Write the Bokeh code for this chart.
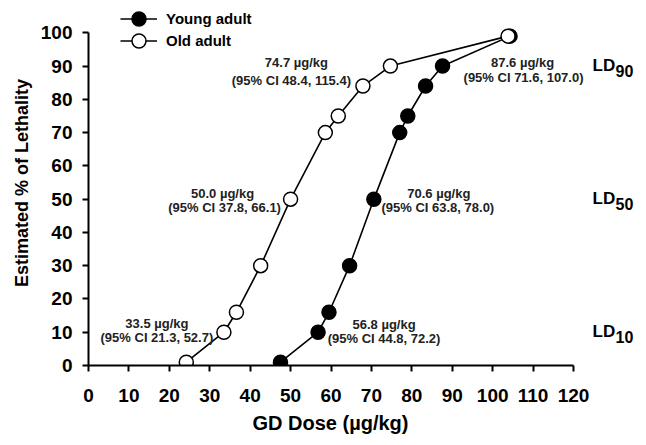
from bokeh.plotting import figure
from bokeh.models import (Range1d, FixedTicker, Legend, LegendItem, LabelSet,
                          ColumnDataSource, Title)
from bokeh.core.properties import value
from bokeh.embed import file_html
from bokeh.resources import INLINE

# ---------------- data ----------------
young_dose = [47.5, 56.8, 59.5, 64.6, 70.6, 77.0, 79.0, 83.4, 87.6, 104.3]
young_pct = [1, 10, 16, 30, 50, 70, 75, 84, 90, 99]
old_dose = [24.2, 33.5, 36.6, 42.6, 50.0, 58.6, 61.8, 67.9, 74.7, 103.8]
old_pct = [1, 10, 16, 30, 50, 70, 75, 84, 90, 99]

ld_levels = [10, 50, 90]
ld_names = ["10", "50", "90"]
old_ld = [33.5, 50.0, 74.7]
old_ci_low = [21.3, 37.8, 48.4]
old_ci_high = [52.7, 66.1, 115.4]
young_ld = [56.8, 70.6, 87.6]
young_ci_low = [44.8, 63.8, 71.6]
young_ci_high = [72.2, 78.0, 107.0]

x_ticks = [0, 10, 20, 30, 40, 50, 60, 70, 80, 90, 100, 110, 120]
y_ticks = [0, 10, 20, 30, 40, 50, 60, 70, 80, 90, 100]

FONT = "Liberation Sans"

W, H = 646, 445
LEFT, BOTTOM = 88, 80
px_per_x = 485 / 120.0
px_per_y = 332.7 / 100.0
x_end = (W - LEFT) / px_per_x
y_end = (H - BOTTOM) / px_per_y

p = figure(width=W, height=H, output_backend="svg", toolbar_location=None,
           x_range=Range1d(0, x_end), y_range=Range1d(0, y_end),
           min_border_left=LEFT, min_border_right=0, min_border_top=0,
           min_border_bottom=BOTTOM)
p.outline_line_color = None
p.grid.visible = False
p.background_fill_color = "white"
p.border_fill_color = "white"

for ax, ticks, bnds in ((p.xaxis, x_ticks, (0, 120)), (p.yaxis, y_ticks, (0, 100))):
    ax.ticker = FixedTicker(ticks=ticks)
    ax.bounds = bnds
    ax.major_tick_in = 0
    ax.major_tick_out = 6
    ax.minor_tick_line_color = None
    ax.axis_line_width = 2
    ax.major_tick_line_width = 2
    ax.axis_line_color = "black"
    ax.major_tick_line_color = "black"
    ax.major_label_text_font = FONT
    ax.major_label_text_font_style = "bold"
    ax.major_label_text_font_size = "19px"
    ax.major_label_text_color = "black"
    ax.axis_label_text_font = FONT
    ax.axis_label_text_font_style = "bold"
    ax.axis_label_text_color = "black"

p.xaxis.major_label_standoff = 17
p.yaxis.axis_label = "Estimated % of Lethality"
p.yaxis.axis_label_text_font_size = "18px"
p.yaxis.major_label_standoff = 10
p.yaxis.axis_label_standoff = 6

# x-axis title, centred under the 0-120 axis span
p.add_layout(Title(text="GD Dose (µg/kg)", align="left", offset=164,
                   standoff=14, vertical_align="top",
                   text_font=FONT, text_font_style="bold",
                   text_font_size="20px", text_color="black"), "below")

# ---------------- series ----------------
yl = p.line(young_dose, young_pct, line_color="black", line_width=1.6)
ys = p.scatter(young_dose, young_pct, size=14, fill_color="black",
               line_color="black", line_width=1.5)
ol = p.line(old_dose, old_pct, line_color="black", line_width=1.6)
os_ = p.scatter(old_dose, old_pct, size=14, fill_color="white",
                line_color="black", line_width=1.5)

frame_h = H - BOTTOM
for label, rends, centre in (("Young adult", [yl, ys], 18),
                             ("Old adult", [ol, os_], 40)):
    lg = Legend(items=[LegendItem(label=label, renderers=rends)],
                location=(32, frame_h - centre - 17.5), glyph_width=37,
                glyph_height=35, label_height=20, spacing=0, padding=0,
                margin=0, label_standoff=9, border_line_color=None,
                background_fill_alpha=0,
                label_text_font=FONT, label_text_font_style="bold",
                label_text_font_size="15px", label_text_color="black")
    p.add_layout(lg)

# ---------------- annotations ----------------
line1_dx = [-67, -68, -94, 66, 65, 80]
line1_dy = [8.7, 5.6, 3.6, 7.7, 5.6, 4]
line2_dx = [-67, -66, -99, 66, 64, 81]
line2_dy = [-5.3, -8.4, -14.4, -6.3, -8.4, -11.7]

ann_x = old_ld + young_ld
ann_y = ld_levels + ld_levels
ann_t1 = [f"{v:.1f} µg/kg" for v in ann_x]
ann_t2 = [f"(95% CI {lo:.1f}, {hi:.1f})" for lo, hi in
          zip(old_ci_low + young_ci_low, old_ci_high + young_ci_high)]

src1 = ColumnDataSource(dict(x=ann_x, y=ann_y, text=ann_t1, dx=line1_dx, dy=line1_dy))
src2 = ColumnDataSource(dict(x=ann_x, y=ann_y, text=ann_t2, dx=line2_dx, dy=line2_dy))
for src in (src1, src2):
    p.add_layout(LabelSet(x="x", y="y", text="text", source=src,
                          x_offset="dx", y_offset="dy",
                          text_align="center", text_baseline="middle",
                          text_font=value(FONT), text_font_style="bold",
                          text_font_size="13px", text_color="#222222"))

ld_src = ColumnDataSource(dict(x=[x_ticks[-1]] * 3, y=ld_levels,
                               t=["LD"] * 3, sub=ld_names))
p.add_layout(LabelSet(x="x", y="y", text="t", source=ld_src, x_offset=19,
                      y_offset=1, text_align="left", text_baseline="middle",
                      text_font=value(FONT), text_font_style="bold",
                      text_font_size="17px", text_color="black"))
p.add_layout(LabelSet(x="x", y="y", text="sub", source=ld_src, x_offset=42,
                      y_offset=-5, text_align="left", text_baseline="middle",
                      text_font=value(FONT), text_font_style="bold",
                      text_font_size="16px", text_color="black"))

open("out.html", "w").write(file_html(p, INLINE))
